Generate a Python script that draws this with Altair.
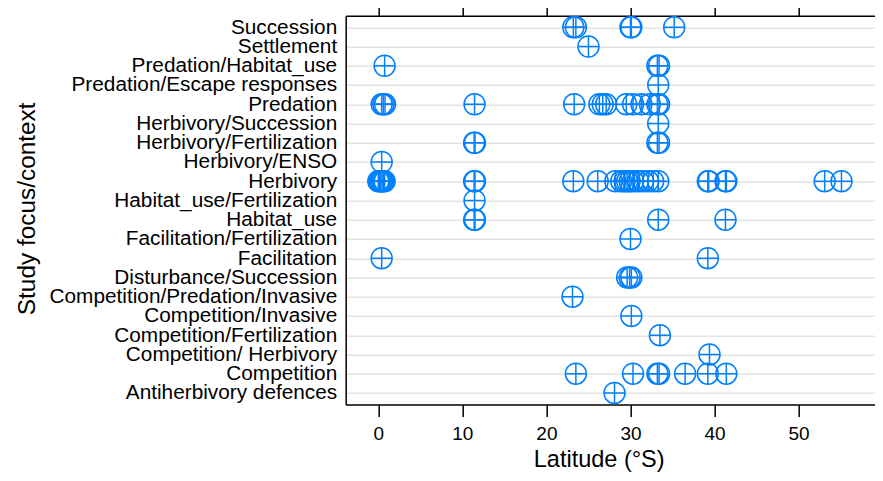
import altair as alt
import pandas as pd

# categories, top to bottom
categories = [
    "Succession", "Settlement", "Predation/Habitat_use", "Predation/Escape responses",
    "Predation", "Herbivory/Succession", "Herbivory/Fertilization", "Herbivory/ENSO",
    "Herbivory", "Habitat_use/Fertilization", "Habitat_use", "Facilitation/Fertilization",
    "Facilitation", "Disturbance/Succession", "Competition/Predation/Invasive",
    "Competition/Invasive", "Competition/Fertilization", "Competition/ Herbivory",
    "Competition", "Antiherbivory defences",
]

succession = [23.2, 23.5, 30.0, 30.1, 35.2]
settlement = [25.0]
predation_habitat = [0.75, 33.2, 33.4]
predation_escape = [33.3]
predation = [0.4, 0.6, 0.8, 11.45, 23.3, 26.3, 26.7, 27.1, 29.5, 30.3, 31.3, 32.3, 33.2, 33.4]
herbivory_succession = [33.3]
herbivory_fertilization = [11.4, 11.5, 33.2, 33.4]
herbivory_enso = [0.4]
herbivory = [0.0, 0.15, 0.3, 0.45, 0.6, 0.75, 11.4, 11.5, 23.2, 26.1, 28.2, 28.9, 29.3,
             29.6, 29.9, 30.3, 30.9, 31.5, 32.1, 32.7, 33.3, 39.2, 39.3, 41.3, 41.4,
             53.1, 55.1]
habitat_fertilization = [11.45]
habitat_use = [11.4, 11.5, 33.3, 41.3]
facilitation_fertilization = [30.0]
facilitation = [0.4, 39.2]
disturbance_succession = [29.6, 29.9, 30.1]
competition_predation_invasive = [23.1]
competition_invasive = [30.1]
competition_fertilization = [33.5]
competition_herbivory = [39.4]
competition = [23.5, 30.3, 33.2, 33.4, 36.5, 39.2, 41.4]
antiherbivory = [28.1]

series = [
    succession, settlement, predation_habitat, predation_escape, predation,
    herbivory_succession, herbivory_fertilization, herbivory_enso, herbivory,
    habitat_fertilization, habitat_use, facilitation_fertilization, facilitation,
    disturbance_succession, competition_predation_invasive, competition_invasive,
    competition_fertilization, competition_herbivory, competition, antiherbivory,
]

x_ticks = [0, 10, 20, 30, 40, 50]

rows = []
for cat, vals in zip(categories, series):
    for v in vals:
        rows.append({"focus": cat, "lat": v})
df = pd.DataFrame(rows)

FONT = "Liberation Sans"
BLUE = "#0080ff"
CIRCLE_PLUS = "M-1,0A1,1,0,1,1,1,0A1,1,0,1,1,-1,0M-1,0L1,0M0,-1L0,1"

xscale = alt.Scale(domain=[-3.88, 59.05], nice=False, zero=False)

points = alt.Chart(df).mark_point(
    shape=CIRCLE_PLUS, size=441, filled=False, color=BLUE, strokeWidth=1.5, opacity=1
).encode(
    x=alt.X("lat:Q", scale=xscale, axis=alt.Axis(
        orient="bottom", values=x_ticks, grid=False, title="Latitude (°S)",
        domainColor="black", domainWidth=1.5, tickColor="black", tickWidth=1.5,
        tickSize=12, labelPadding=8.5, labelFontSize=19, labelFont=FONT,
        labelColor="black", titleFont=FONT, titleFontSize=23.5,
        titleFontWeight="normal", titleColor="black", titleX=253, titleY=62.5,
        titleBaseline="alphabetic", titleAlign="center",
    )),
    y=alt.Y("focus:N", sort=categories, scale=alt.Scale(type="point", padding=0.6),
            axis=alt.Axis(
                grid=True, gridColor="#e4e4e4", gridWidth=1.6, ticks=False, tickSize=0,
                domainColor="black", domainWidth=1.5, labelPadding=9, labelFontSize=20.8,
                labelFont=FONT, labelColor="black", labelLimit=500,
                title="Study focus/context", titleFont=FONT, titleFontSize=24.4,
                titleFontWeight="normal", titleColor="black", titleAngle=270,
                titleX=-311.5, titleY=192.6, titleBaseline="alphabetic", titleAlign="center",
            )),
)

top_axis = alt.Chart(df).mark_point(opacity=0).encode(
    x=alt.X("lat:Q", scale=xscale, axis=alt.Axis(
        orient="top", values=x_ticks, grid=False, labels=False, title="",
        domainColor="black", domainWidth=1.5, tickColor="black", tickWidth=1.5,
        tickSize=12,
    )),
)

chart = alt.layer(points, top_axis).resolve_axis(x="independent").properties(
    width=529, height=388.8,
    autosize=alt.AutoSizeParams(type="none"),
    padding={"left": 337.7, "top": 7.7, "right": 0, "bottom": 68.5},
).configure_view(stroke="transparent")

chart.save("out.html", embed_options={"renderer": "svg", "actions": False})
